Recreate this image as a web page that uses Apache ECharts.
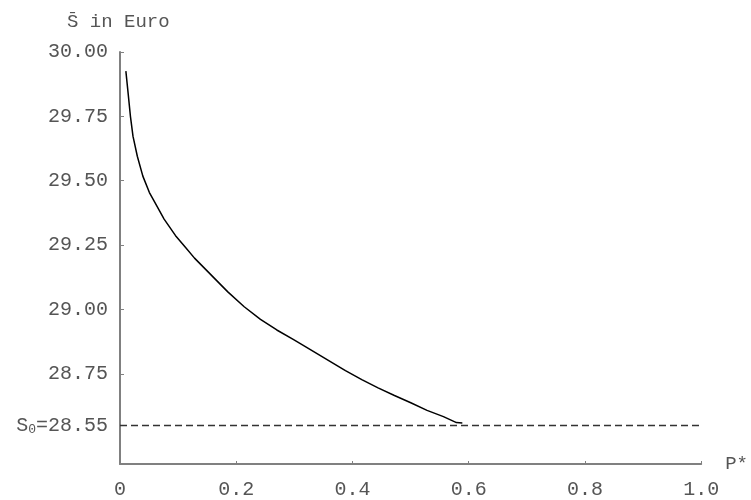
<!DOCTYPE html>
<html>
<head>
<meta charset="utf-8">
<script src="https://cdn.jsdelivr.net/npm/echarts@6/dist/echarts.min.js"></script>
<style>
  html, body { margin: 0; padding: 0; background: #fff; }
  #chart { width: 751px; height: 500px; }
</style>
</head>
<body>
<div id="chart"></div>
<script>
// Average price S̄ as a function of P*
const pValues = [0.0101, 0.0140, 0.0180, 0.0224, 0.0298, 0.0393, 0.0506, 0.0590, 0.0759, 0.0956,
                 0.1125, 0.1282, 0.1855, 0.2137, 0.2417, 0.2698, 0.2980, 0.3175, 0.3879, 0.4160,
                 0.4440, 0.4722, 0.5003, 0.5283, 0.5565, 0.5789, 0.5890];
const sValues = [29.9255, 29.8395, 29.7493, 29.6722, 29.5951, 29.5180, 29.4540, 29.4200, 29.3511, 29.2867,
                 29.2420, 29.1995, 29.0685, 29.0106, 28.9620, 28.9204, 28.8840, 28.8580, 28.7624, 28.7277,
                 28.6957, 28.6660, 28.6379, 28.6082, 28.5839, 28.5608, 28.5596];

// Reference level S0
const s0 = 28.55;
const s0Range = [0, 1.0];

// Tick positions
const xTicks = [0, 0.2, 0.4, 0.6, 0.8, 1.0];
const yTicks = [28.75, 29.0, 29.25, 29.5, 29.75, 30.0];

const FONT = 'Liberation Mono';
const TEXT = '#555';
const AXIS = '#808080';

const chart = echarts.init(document.getElementById('chart'));

chart.setOption({
  animation: false,
  backgroundColor: '#fff',
  title: {
    text: 'S\u0304 in Euro',
    left: 62,
    top: 7,
    textStyle: { fontFamily: FONT, fontSize: 19, fontWeight: 'normal', color: TEXT }
  },
  grid: { left: 120, right: 38, top: 52, bottom: 33, containLabel: false },
  xAxis: {
    type: 'value',
    min: 0,
    max: 1.0,
    name: 'P*',
    nameLocation: 'end',
    nameGap: 24,
    nameTextStyle: { fontFamily: FONT, fontSize: 19, color: TEXT },
    axisLine: { show: true, onZero: false, lineStyle: { color: AXIS, width: 2 } },
    axisTick: { show: true, inside: true, length: 3, customValues: xTicks, lineStyle: { color: AXIS, width: 1 } },
    axisLabel: {
      customValues: xTicks,
      margin: 16,
      fontFamily: FONT,
      fontSize: 20,
      color: TEXT,
      formatter: v => (v === 0 ? '0' : v.toFixed(1))
    },
    splitLine: { show: false }
  },
  yAxis: {
    type: 'value',
    min: 28.40,
    max: 30.00,
    axisLine: { show: true, onZero: false, lineStyle: { color: AXIS, width: 2 } },
    axisTick: { show: true, inside: true, length: 4, customValues: yTicks, lineStyle: { color: AXIS, width: 1 } },
    axisLabel: {
      customValues: [s0].concat(yTicks),
      margin: 12,
      fontFamily: FONT,
      fontSize: 20,
      color: TEXT,
      formatter: v => (Math.abs(v - s0) < 1e-9 ? '{s|S}{sub|0}{s|=' + s0.toFixed(2) + '}' : v.toFixed(2)),
      rich: {
        s: { fontFamily: FONT, fontSize: 20, color: TEXT },
        sub: { fontFamily: FONT, fontSize: 13, color: TEXT, verticalAlign: 'bottom', padding: [8, 0, 0, 0] }
      }
    },
    splitLine: { show: false }
  },
  series: [
    {
      type: 'line',
      data: s0Range.map(p => [p, s0]),
      showSymbol: false,
      lineStyle: { color: '#333', width: 1.5, type: [7, 4] },
      z: 2
    },
    {
      type: 'line',
      data: pValues.map((p, i) => [p, sValues[i]]),
      smooth: false,
      showSymbol: false,
      lineStyle: { color: '#000', width: 1.5 },
      z: 3
    }
  ]
});
</script>
</body>
</html>
